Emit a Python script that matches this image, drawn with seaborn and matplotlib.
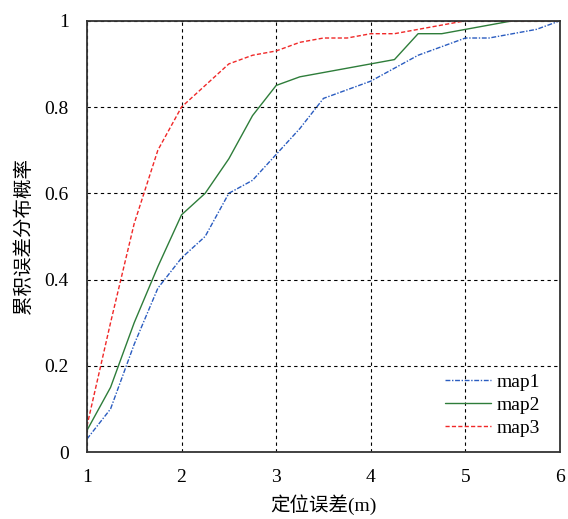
import numpy as np
import pandas as pd
import matplotlib
matplotlib.use("Agg")
import matplotlib.pyplot as plt
import seaborn as sns

x = [1, 1.25, 1.5, 1.75, 2, 2.25, 2.5, 2.75, 3, 3.25, 3.5, 3.75, 4, 4.25, 4.5, 4.75, 5, 5.25, 5.5, 5.75, 6]
map1 = [0.03, 0.10, 0.25, 0.38, 0.45, 0.50, 0.60, 0.63, 0.69, 0.75, 0.82, 0.84, 0.86, 0.89, 0.92, 0.94, 0.96, 0.96, 0.97, 0.98, 1.00]
map2 = [0.05, 0.15, 0.30, 0.43, 0.55, 0.60, 0.68, 0.78, 0.85, 0.87, 0.88, 0.89, 0.90, 0.91, 0.97, 0.97, 0.98, 0.99, 1.00, 1.00, 1.00]
map3 = [0.06, 0.30, 0.53, 0.70, 0.80, 0.85, 0.90, 0.92, 0.93, 0.95, 0.96, 0.96, 0.97, 0.97, 0.98, 0.99, 1.00, 1.00, 1.00, 1.00, 1.00]
series_names = ["map1", "map2", "map3"]
xticks = [1, 2, 3, 4, 5, 6]
yticks = [0, 0.2, 0.4, 0.6, 0.8, 1]
ytick_labels = ["0", "0.2", "0.4", "0.6", "0.8", "1"]
xlabel = "定位误差(m)"
ylabel = "累积误差分布概率"

sns.set_theme(style="ticks")
plt.rcParams['font.family'] = ['Liberation Serif', 'Noto Sans CJK SC']
plt.rcParams['axes.unicode_minus'] = False

df = pd.DataFrame({
    "x": x * 3,
    "y": map1 + map2 + map3,
    "series": sum([[n] * len(x) for n in series_names], []),
})

fig = plt.figure(figsize=(5.68, 5.19), dpi=100)
ax = fig.add_axes([0.153, 0.129, 0.833, 0.831])

colors = {"map1": "#2a5cc0", "map2": "#2e7d3a", "map3": "#f02828"}
styles = {"map1": (0, (3.5, 1.2, 1, 1.2)), "map2": "-", "map3": (0, (3, 1.6))}
for name in series_names:
    sub = df[df["series"] == name]
    sns.lineplot(data=sub, x="x", y="y", ax=ax, color=colors[name],
                 linestyle=styles[name], linewidth=1.0, label=name)

ax.set_xlim(1, 6)
ax.set_ylim(0, 1)
ax.set_xticks(xticks)
ax.set_xticklabels([str(t) for t in xticks])
ax.set_yticks(yticks)
ax.set_yticklabels(ytick_labels)
ax.grid(True, color="black", linestyle=(0, (3, 3)), linewidth=0.8)
ax.tick_params(axis="x", direction="in", length=0, labelsize=14, colors="black", pad=12)
ax.tick_params(axis="y", direction="in", length=0, labelsize=14, colors="black", pad=13)
for s in ax.spines.values():
    s.set_color("#333333")
    s.set_linewidth(1.3)
ax.set_xlabel(xlabel, fontsize=14, color="black", labelpad=6)
ax.set_ylabel(ylabel, fontsize=14, color="black", labelpad=8)

leg = ax.legend(loc="lower right", frameon=False, fontsize=14, handlelength=2.4,
                bbox_to_anchor=(1.0, -0.01), labelspacing=0.28, handletextpad=0.3,
                borderaxespad=0.6)
for t in leg.get_texts():
    t.set_color("black")

fig.savefig("out.png", dpi=100)
